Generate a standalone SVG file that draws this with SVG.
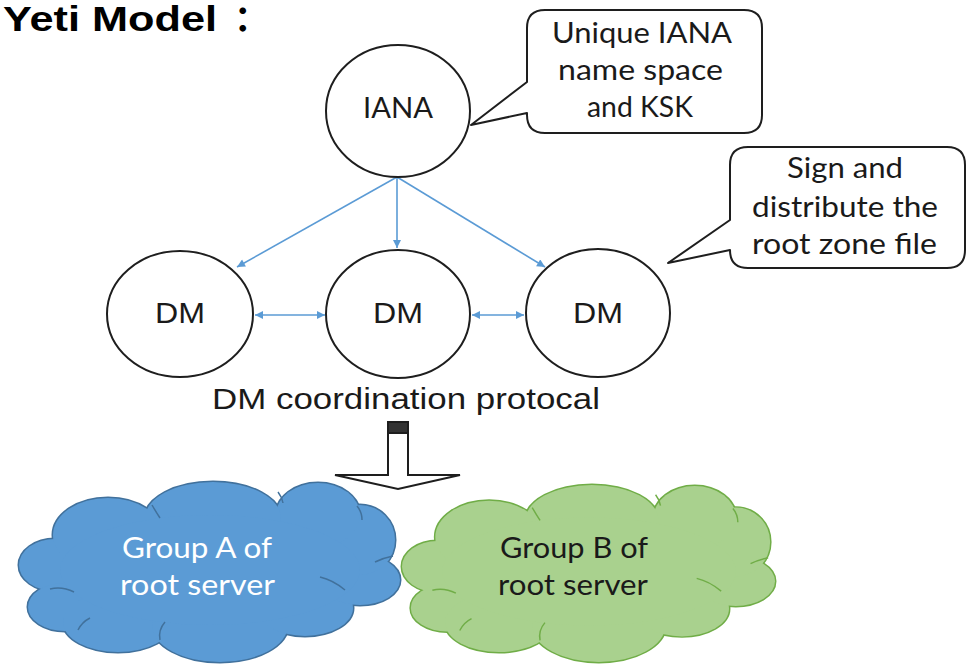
<svg xmlns="http://www.w3.org/2000/svg" xmlns:xlink="http://www.w3.org/1999/xlink" width="974" height="669" viewBox="0 0 974 669">
<style>
.bg{fill:#ffffff}
.node{fill:#ffffff;stroke:#1e1e1e;stroke-width:2}
.callout{fill:#ffffff;stroke:#1e1e1e;stroke-width:2;stroke-linejoin:round}
.conn{stroke:#5b9bd5;stroke-width:1.6;fill:none}
.cal{font-family:Lato,"Open Sans","Noto Sans",sans-serif;font-size:28px;fill:#1a1a1a}
.ari{font-family:"Liberation Sans",Arial,sans-serif;font-size:30px;fill:#1a1a1a}
.title{font-family:"Liberation Sans",Arial,"Noto Sans CJK SC",sans-serif;font-size:35px;font-weight:bold;fill:#000}
</style>
<defs>
<marker id="ah" viewBox="0 0 10 10" refX="10" refY="5" markerWidth="9" markerHeight="8" markerUnits="userSpaceOnUse" orient="auto-start-reverse">
<path d="M0,0 L10,5 L0,10 Z" fill="#5b9bd5"/>
</marker>
<g id="lobes">
<ellipse cx="55" cy="565" rx="36" ry="26"/>
<ellipse cx="65" cy="607" rx="37" ry="24"/>
<ellipse cx="118" cy="622" rx="55" ry="30"/>
<ellipse cx="220" cy="625" rx="68" ry="37"/>
<ellipse cx="305" cy="608" rx="48" ry="28"/>
<ellipse cx="360" cy="580" rx="40" ry="25"/>
<ellipse cx="360" cy="540" rx="35" ry="35"/>
<ellipse cx="318" cy="515" rx="42" ry="32"/>
<ellipse cx="213" cy="518" rx="68" ry="36"/>
<ellipse cx="108" cy="535" rx="55" ry="37"/>
<ellipse cx="210" cy="570" rx="150" ry="55"/>
</g>
<g id="creases">
<path d="M50,589 Q62,586 74,592"/>
<path d="M78,630 Q82,622 90,618"/>
<path d="M160,640 Q158,630 165,622"/>
<path d="M152,505 Q156,512 160,518"/>
<path d="M278,492 Q282,497 283,503"/>
<path d="M357,506 Q362,512 362,520"/>
<path d="M393,556 Q383,558 375,562"/>
<path d="M320,577 Q333,580 345,590"/>
</g>
</defs>
<rect class="bg" x="0" y="0" width="974" height="669"/>

<g id="title">
<text class="title" x="3" y="31" textLength="214" lengthAdjust="spacingAndGlyphs">Yeti Model</text>
<text class="title" x="234" y="31" font-size="28">：</text>
</g>

<g id="connectors">
<line class="conn" x1="397" y1="177" x2="237" y2="267" marker-end="url(#ah)"/>
<line class="conn" x1="397" y1="177" x2="397" y2="248" marker-end="url(#ah)"/>
<line class="conn" x1="397" y1="177" x2="545" y2="267" marker-end="url(#ah)"/>
<line class="conn" x1="255" y1="315" x2="325" y2="315" marker-start="url(#ah)" marker-end="url(#ah)"/>
<line class="conn" x1="472" y1="315" x2="524" y2="315" marker-start="url(#ah)" marker-end="url(#ah)"/>
</g>

<g id="iana">
<ellipse class="node" cx="398" cy="111" rx="72" ry="66"/>
<text class="cal" x="363" y="118" textLength="70" lengthAdjust="spacingAndGlyphs">IANA</text>
</g>

<g id="callout-iana">
<path class="callout" d="M545,10 H744 Q762,10 762,28 V115 Q762,133 744,133 H545 Q527,133 527,115 V113 L471,125 L527,82 V28 Q527,10 545,10 Z"/>
<text class="cal" x="552" y="43" textLength="180" lengthAdjust="spacingAndGlyphs">Unique IANA</text>
<text class="cal" x="558" y="80" textLength="165" lengthAdjust="spacingAndGlyphs">name space</text>
<text class="cal" x="587" y="117" textLength="106" lengthAdjust="spacingAndGlyphs">and KSK</text>
</g>

<g id="dm1">
<ellipse class="node" cx="180" cy="314" rx="73" ry="63"/>
<text class="ari" x="155" y="323" textLength="50" lengthAdjust="spacingAndGlyphs">DM</text>
</g>
<g id="dm2">
<ellipse class="node" cx="398" cy="314" rx="72" ry="64"/>
<text class="ari" x="373" y="323" textLength="50" lengthAdjust="spacingAndGlyphs">DM</text>
</g>
<g id="dm3">
<ellipse class="node" cx="598" cy="313" rx="72" ry="64"/>
<text class="ari" x="573" y="323" textLength="50" lengthAdjust="spacingAndGlyphs">DM</text>
</g>

<g id="callout-dm">
<path class="callout" d="M748,147 H947 Q965,147 965,165 V250 Q965,268 947,268 H748 Q730,268 730,250 V250 L668,263 L730,220 V165 Q730,147 748,147 Z"/>
<text class="cal" x="787" y="178" textLength="116" lengthAdjust="spacingAndGlyphs">Sign and</text>
<text class="cal" x="752" y="217" textLength="186" lengthAdjust="spacingAndGlyphs">distribute the</text>
<text class="cal" x="752" y="254" textLength="185" lengthAdjust="spacingAndGlyphs">root zone file</text>
</g>

<g id="protocol-label">
<text class="ari" x="212" y="409" font-size="31" textLength="388" lengthAdjust="spacingAndGlyphs">DM coordination protocal</text>
</g>

<g id="down-arrow">
<path d="M388,422 H408 V475 H460 L398,489 L335,475 H388 Z" fill="#ffffff" stroke="#1e1e1e" stroke-width="2" stroke-linejoin="miter"/>
<rect x="388" y="422" width="20" height="11" fill="#333333" stroke="#1e1e1e" stroke-width="2"/>
</g>

<g id="group-a">
<use xlink:href="#lobes" href="#lobes" fill="#5b9bd5" stroke="#41719c" stroke-width="3"/>
<use xlink:href="#lobes" href="#lobes" fill="#5b9bd5" stroke="none"/>
<use xlink:href="#creases" href="#creases" fill="none" stroke="#41719c" stroke-width="1.5"/>
<text class="cal" x="122" y="558" font-size="30" textLength="150" lengthAdjust="spacingAndGlyphs" style="fill:#ffffff">Group A of</text>
<text class="cal" x="120" y="595" font-size="30" textLength="155" lengthAdjust="spacingAndGlyphs" style="fill:#ffffff">root server</text>
</g>

<g id="group-b">
<g transform="translate(403,485) scale(0.979,0.983) translate(-20,-482)">
<use xlink:href="#lobes" href="#lobes" fill="#a9d18e" stroke="#70ad47" stroke-width="3"/>
<use xlink:href="#lobes" href="#lobes" fill="#a9d18e" stroke="none"/>
<use xlink:href="#creases" href="#creases" fill="none" stroke="#70ad47" stroke-width="1.5"/>
</g>
<text class="cal" x="500" y="558" font-size="30" textLength="148" lengthAdjust="spacingAndGlyphs">Group B of</text>
<text class="cal" x="498" y="595" font-size="30" textLength="150" lengthAdjust="spacingAndGlyphs">root server</text>
</g>
</svg>
